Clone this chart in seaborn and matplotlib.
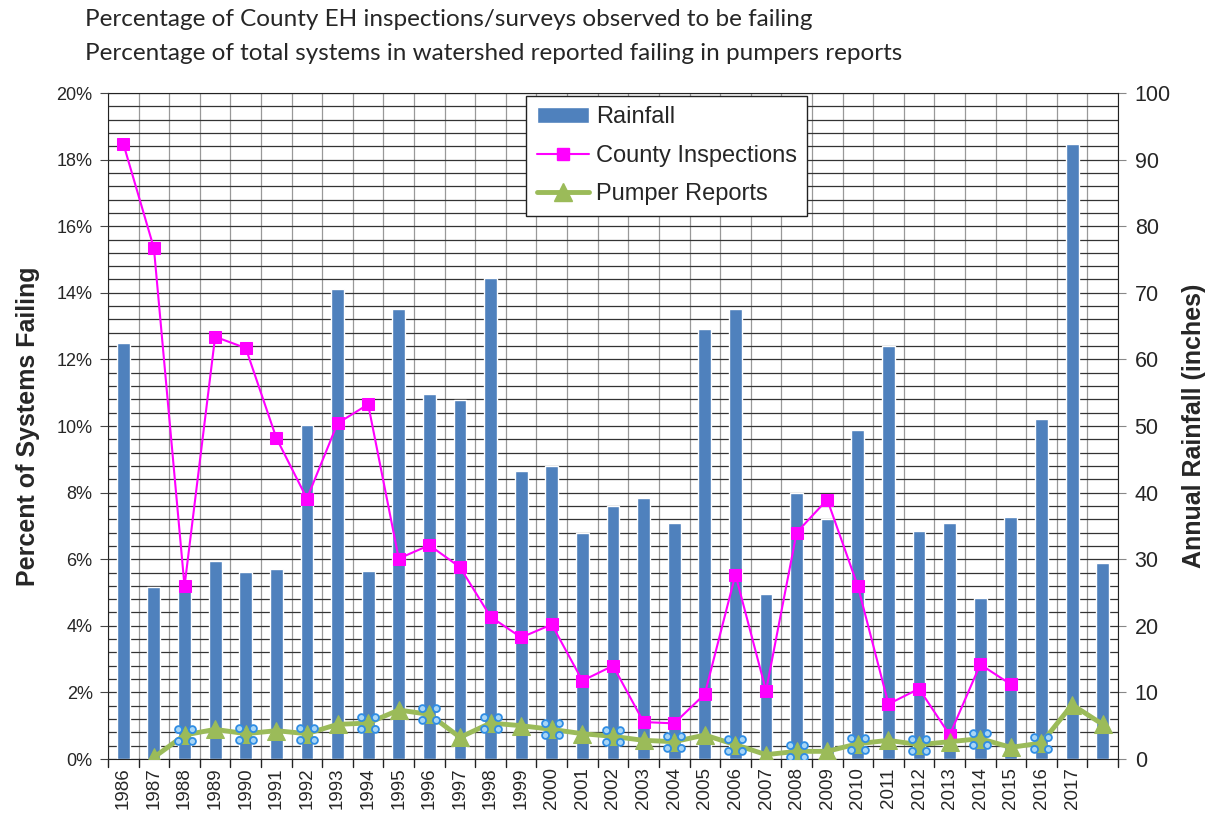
import numpy as np
import pandas as pd
import matplotlib
matplotlib.use("Agg")
import matplotlib.pyplot as plt
from matplotlib.lines import Line2D
from matplotlib.patches import Patch
from matplotlib.path import Path
from matplotlib.ticker import MultipleLocator, FuncFormatter, FixedLocator
import seaborn as sns

# data
years = list(range(1986, 2019))
year_labels = [str(y) for y in range(1986, 2018)] + [""]
rainfall = [62.4, 25.9, 25.3, 29.8, 28.1, 28.5, 50.2, 70.5, 28.3, 67.5,
            54.8, 53.9, 72.2, 43.3, 44.0, 33.9, 38.0, 39.2, 35.4, 64.6,
            67.6, 24.8, 39.9, 36.0, 49.4, 62.0, 34.2, 35.5, 24.1, 36.3,
            51.1, 92.3, 29.5]
county = [18.48, 15.34, 5.19, 12.68, 12.34, 9.64, 7.82, 10.08, 10.65, 6.02,
          6.42, 5.76, 4.27, 3.65, 4.04, 2.35, 2.80, 1.11, 1.07, 1.95,
          5.54, 2.05, 6.80, 7.79, 5.19, 1.65, 2.11, 0.72, 2.84, 2.24,
          np.nan, np.nan, np.nan]
pumper = [np.nan, 0.05, 0.72, 0.89, 0.76, 0.85, 0.76, 1.04, 1.08, 1.47,
          1.34, 0.65, 1.08, 1.00, 0.89, 0.76, 0.68, 0.56, 0.52, 0.72,
          0.43, 0.13, 0.23, 0.23, 0.46, 0.56, 0.43, 0.52, 0.61, 0.35,
          0.48, 1.63, 1.04]

BAR = "#4f81bd"
MAGENTA = "#ff00ff"
GREEN = "#9bbb59"

sns.set_style("white")
plt.rcParams["font.family"] = ["Liberation Sans", "DejaVu Sans"]

df = pd.DataFrame({"year": years, "rain": rainfall,
                   "county": np.array(county) / 100, "pumper": np.array(pumper) / 100})
df["pos"] = np.arange(len(df))

fig = plt.figure(figsize=(12.11, 8.14), dpi=100)
ax = fig.add_axes([108 / 1211, 1 - 759 / 814, 1010 / 1211, 666 / 814])

# rainfall bars on the base axes (right-hand scale)
sns.barplot(data=df, x="year", y="rain", ax=ax, color=BAR, width=0.42,
            saturation=1, zorder=2)
ax.set_ylim(0, 100)
ax.set_xlim(-0.5, len(years) - 0.5)
ax.set_xlabel("")

# percent lines on the twin (left-hand scale)
ax2 = ax.twinx()

# twinx resets tick sides, so swap them afterwards
ax.yaxis.tick_right()
ax.yaxis.set_label_position("right")
ax2.yaxis.tick_left()
ax2.yaxis.set_label_position("left")

ax.yaxis.set_major_locator(MultipleLocator(10))
ax.yaxis.set_minor_locator(MultipleLocator(2))
ax.set_ylabel("Annual Rainfall (inches)", fontsize=18, fontweight="bold", labelpad=8)

ax.xaxis.set_major_locator(FixedLocator(df["pos"]))
ax.set_xticklabels(year_labels, rotation=90, fontsize=13.5)
ax.xaxis.set_minor_locator(FixedLocator(np.arange(-0.5, len(years), 0.5)))
ax.tick_params(axis="x", which="major", length=0, pad=6)
ax.tick_params(axis="x", which="minor", length=0)
ax.tick_params(axis="y", which="major", length=6, color="#888", labelsize=15.5, pad=6)
ax.tick_params(axis="y", which="minor", length=0)

# boundary tick marks under the axis
for b in np.arange(-0.5, len(years), 1.0):
    ax.plot([b, b], [0, -1.2], color="#222", lw=1, clip_on=False, zorder=6)

# dense grid like the excel chart
ax.set_axisbelow(True)
ax.grid(True, axis="y", which="both", color="#333", lw=0.9)
ax.grid(True, axis="x", which="minor", color="#999", lw=0.9)
for s in ax.spines.values():
    s.set_color("#222")

sns.lineplot(data=df, x="pos", y="county", ax=ax2, color=MAGENTA, lw=1.5,
             marker="s", markersize=9, markeredgecolor=MAGENTA, zorder=3)
sns.lineplot(data=df, x="pos", y="pumper", ax=ax2, color=GREEN, lw=3.5,
             marker="^", markersize=13, markeredgecolor=GREEN, zorder=4)

# little selection circles around every other pumper point
corners = [Path.circle((cx, cy), 0.5) for cx in (-1, 1) for cy in (-0.85, 0.85)]
handle_marker = Path.make_compound_path(*corners)
even = df[(df["year"] % 2 == 0) & (df["year"] <= 2016) & df["pumper"].notna()]
ax2.plot(even["pos"], even["pumper"], ls="none", marker=handle_marker,
         markersize=15, markerfacecolor="#a9d6f5", markeredgecolor="#2f8de4",
         markeredgewidth=1.3, zorder=5)

ax2.set_ylim(0, 0.20)
ax2.yaxis.set_major_locator(MultipleLocator(0.02))
ax2.yaxis.set_major_formatter(FuncFormatter(lambda v, p: f"{v * 100:.0f}%"))
ax2.set_ylabel("Percent of Systems Failing", fontsize=18, fontweight="bold", labelpad=12)
ax2.set_xlabel("")
ax2.tick_params(axis="y", length=6, color="#444", labelsize=13, pad=5)
ax2.set_xlim(-0.5, len(years) - 0.5)
for s in ax2.spines.values():
    s.set_visible(False)

handles = [Patch(facecolor=BAR, label="Rainfall"),
           Line2D([], [], color=MAGENTA, lw=1.5, marker="s", markersize=9, label="County Inspections"),
           Line2D([], [], color=GREEN, lw=3.5, marker="^", markersize=13, label="Pumper Reports")]
leg = ax2.legend(handles=handles, loc="upper left", bbox_to_anchor=(0.414, 0.996),
                 fontsize=17, frameon=True, fancybox=False, framealpha=1,
                 edgecolor="#222", handlelength=2.2, handletextpad=0.3,
                 labelspacing=0.7, borderpad=0.45, borderaxespad=0)
leg.get_frame().set_linewidth(1.0)

fig.text(85 / 1211, 1 - 20 / 814,
         "Percentage of County EH inspections/surveys observed to be failing",
         fontsize=17.5, va="center", family=["Lato", "DejaVu Sans"])
fig.text(85 / 1211, 1 - 53 / 814,
         "Percentage of total systems in watershed reported failing in pumpers reports",
         fontsize=17.5, va="center", family=["Lato", "DejaVu Sans"])

fig.savefig("out.png", dpi=100)
